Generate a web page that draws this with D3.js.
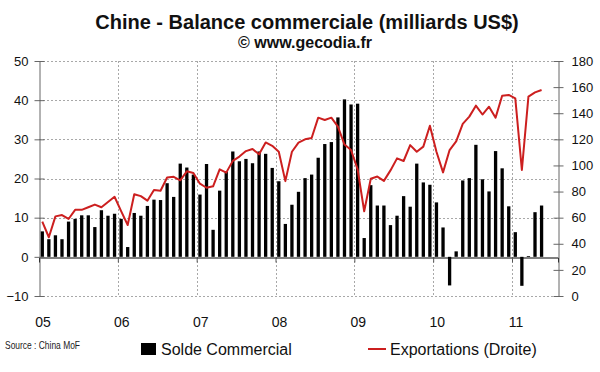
<!DOCTYPE html>
<html><head><meta charset="utf-8">
<script src="https://cdn.jsdelivr.net/npm/d3@7"></script>
<style>body{margin:0;background:#fff}svg{display:block;font-family:Arial,"Liberation Sans",sans-serif}</style>
</head><body><svg id="c" width="600" height="372"></svg>
<script>
const yearLabels = ["05","06","07","08","09","10","11"];
const solde = [
 6.5,4.5,5.5,4.5,9.0,9.7,10.6,10.6,7.6,11.9,10.5,11.0,
 9.7,2.5,11.2,10.5,13.0,14.6,14.5,18.8,15.3,23.8,22.8,21.0,
 15.9,23.7,6.9,16.9,21.8,26.9,24.4,25.0,23.9,26.9,26.3,22.7,
 19.3,8.4,13.3,16.6,20.1,21.0,25.3,28.8,29.3,35.6,40.2,38.9,
 39.1,4.8,18.3,13.1,13.1,8.1,10.5,15.5,12.8,23.8,19.0,18.4,
 13.9,7.5,-7.3,1.4,19.5,20.1,28.6,19.8,16.7,27.0,22.6,12.9,
 6.3,-7.4,0.2,11.4,13.1];
const exportations = [
 57,45,61,62,59,66,66,68,70,68,72,76,
 65,54.4,78,76.5,73,81.2,80.6,90.8,91.3,88.6,95.5,94.2,
 86,82.9,84,97,94.5,103.5,106.8,111,112.6,108.5,117.6,115,
 110.5,88,110.5,117.5,120,121,136.6,134.8,136.6,129.7,116,111.8,
 97,64.9,89.8,91.5,88.2,96.2,105.4,103.4,115.6,110.5,114.4,130.4,
 110.5,94.7,111.8,118.5,131.8,137.4,145.8,139,145,136.6,153.4,154,
 151.4,96.5,152.7,156,157.8];
const leftTicks = [-10,0,10,20,30,40,50];
const rightTicks = [0,20,40,60,80,100,120,140,160,180];

const svg = d3.select("#c");
const L=39, R=558, T=61, B=296;
const x = d3.scaleLinear().domain([0,79]).range([L,R]);
const yL = d3.scaleLinear().domain([-10,50]).range([B,T]);
const yR = d3.scaleLinear().domain([0,180]).range([B,T]);
const red = "#cc1f1f";

// title
svg.append("text").attr("x",307).attr("y",29).attr("text-anchor","middle")
  .attr("font-size",20).attr("font-weight","bold").attr("fill","#111")
  .text("Chine - Balance commerciale (milliards US$)");
svg.append("text").attr("x",305).attr("y",48).attr("text-anchor","middle")
  .attr("font-size",16).attr("font-weight","bold").attr("fill","#111")
  .text("© www.gecodia.fr");

// grid
const grid = svg.append("g").attr("stroke","#a8a8a8").attr("stroke-dasharray","2,2").attr("stroke-width",1);
grid.selectAll("line.h").data(leftTicks.filter(d=>d!==0)).join("line")
  .attr("x1",L).attr("x2",R).attr("y1",d=>Math.round(yL(d))+0.5).attr("y2",d=>Math.round(yL(d))+0.5);
const yearStarts = d3.range(1,yearLabels.length).map(k=>k*12);
grid.selectAll("line.v").data(yearStarts).join("line")
  .attr("x1",d=>Math.round(x(d))+0.5).attr("x2",d=>Math.round(x(d))+0.5).attr("y1",T).attr("y2",B);

// bars
const bw = 3.3;
svg.append("g").attr("fill","#000").selectAll("rect").data(solde).join("rect")
  .attr("x",(d,i)=>x(i+0.5)-bw/2).attr("width",bw)
  .attr("y",d=>yL(Math.max(0,d))).attr("height",d=>Math.abs(yL(d)-yL(0)));

// zero axis
const xAxis = d3.axisBottom(x).tickValues(yearStarts).tickSize(5).tickFormat("");
const gx = svg.append("g").attr("transform",`translate(0,${Math.round(yL(0))+0.5})`).call(xAxis);
gx.select(".domain").attr("stroke","#000");
gx.selectAll(".tick line").attr("stroke","#555");

// line
const line = d3.line().x((d,i)=>x(i+0.5)).y(d=>yR(d));
svg.append("path").datum(exportations).attr("d",line).attr("fill","none")
  .attr("stroke",red).attr("stroke-width",2).attr("stroke-linejoin","round");

// left axis
const gl = svg.append("g").attr("transform",`translate(${L+0.5},0)`)
  .call(d3.axisLeft(yL).tickValues(leftTicks).tickSize(5).tickSizeOuter(0));
gl.select(".domain").attr("stroke","#666");
gl.selectAll(".tick line").attr("stroke","#666").attr("x1",5);
gl.selectAll(".tick text").attr("font-size",13).attr("font-family","Arial,'Liberation Sans',sans-serif").attr("fill","#111").attr("x",-11);

// right axis
const gr = svg.append("g").attr("transform",`translate(${R+0.5},0)`)
  .call(d3.axisRight(yR).tickValues(rightTicks).tickSize(5).tickSizeOuter(0));
gr.select(".domain").attr("stroke","#666");
gr.selectAll(".tick line").attr("stroke","#666").attr("x1",-5);
gr.selectAll(".tick text").attr("font-size",13).attr("font-family","Arial,'Liberation Sans',sans-serif").attr("fill","#111").attr("x",13);

// year labels
svg.append("g").selectAll("text").data(yearLabels).join("text")
  .attr("x",(d,i)=>x(i*12)+4).attr("y",327).attr("text-anchor","middle")
  .attr("font-size",14).attr("fill","#111").text(d=>d);

// source
svg.append("text").attr("x",5).attr("y",349).attr("font-size",10.5)
  .attr("textLength",75).attr("lengthAdjust","spacingAndGlyphs").attr("fill","#222")
  .text("Source : China MoF");

// legend
svg.append("rect").attr("x",141).attr("y",343).attr("width",15).attr("height",12).attr("fill","#000");
svg.append("text").attr("x",161).attr("y",355).attr("font-size",16).attr("fill","#111").text("Solde Commercial");
svg.append("line").attr("x1",368).attr("x2",386).attr("y1",349).attr("y2",349).attr("stroke",red).attr("stroke-width",2);
svg.append("text").attr("x",390).attr("y",355).attr("font-size",16).attr("fill","#111").text("Exportations (Droite)");
</script></body></html>
